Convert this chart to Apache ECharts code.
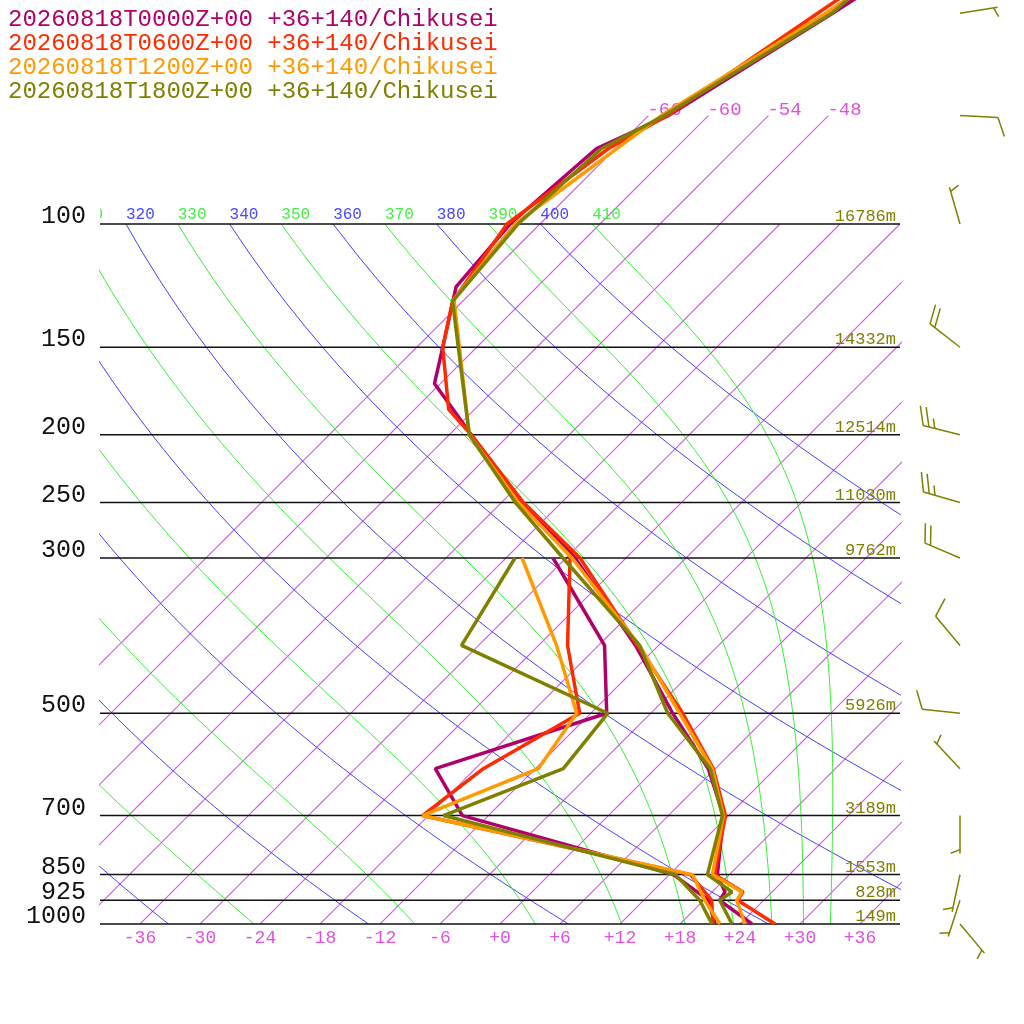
<!DOCTYPE html>
<html>
<head>
<meta charset="utf-8">
<title>Skew-T Chikusei</title>
<script src="https://cdn.jsdelivr.net/npm/echarts@6/dist/echarts.min.js"></script>
<style>
html, body { margin: 0; padding: 0; background: #fff; }
#chart { width: 1024px; height: 1024px; }
</style>
</head>
<body>
<div id="chart"></div>
<script>
// runs shown in the legend
var runNames = [
	'20260818T0000Z+00 +36+140/Chikusei',
	'20260818T0600Z+00 +36+140/Chikusei',
	'20260818T1200Z+00 +36+140/Chikusei',
	'20260818T1800Z+00 +36+140/Chikusei'
];
var runColors = ['#b0006b', '#ff2a00', '#ff9a00', '#808000'];

// temperature profiles (hPa / degC)
var t00P = [1000, 925, 900, 850, 700, 600, 500, 400, 300, 250, 200, 169, 150, 123, 100, 78, 70, 50, 30];
var t00T = [25.2, 19.6, 19.3, 16.8, 11.5, 5.3, -3.8, -14.3, -29.1, -39.9, -51.8, -60.6, -63.4, -68.1, -69.0, -67.9, -64.0, -57.8, -49.4];
var t06P = [1000, 925, 900, 850, 700, 600, 500, 400, 300, 250, 200, 184, 150, 129, 100, 78, 70, 50, 30];
var t06T = [27.5, 21.4, 21.1, 16.5, 11.7, 5.8, -2.8, -14.1, -28.6, -39.8, -51.8, -56.6, -63.4, -67.0, -69.3, -66.7, -64.1, -59.3, -52.2];
var t12P = [1000, 925, 900, 850, 700, 600, 500, 400, 300, 250, 200, 128, 100, 70, 50, 30];
var t12T = [24.5, 21.3, 21.0, 16.3, 11.5, 5.7, -3.1, -13.9, -29.4, -40.3, -52.0, -67.1, -68.5, -64.7, -58.5, -51.4];
var t18P = [1000, 925, 900, 850, 700, 600, 500, 400, 300, 250, 200, 129, 100, 78, 70, 50, 30];
var t18T = [23.2, 19.6, 20.0, 15.8, 11.4, 5.5, -4.3, -13.9, -30.3, -40.6, -52.0, -67.0, -68.2, -67.4, -64.4, -57.9, -55.3];

// dew point profiles (hPa / degC)
var dewP = [1000, 925, 850, 700, 600, 500, 400, 300];
var d00T = [21.5, 18.5, 12.4, -14.6, -22.0, -10.4, -17.4, -31.3];
var d06T = [21.3, 18.8, 14.1, -18.6, -17.2, -13.1, -21.1, -29.6];
var d12T = [22.0, 18.1, 14.3, -18.6, -11.7, -13.4, -22.2, -34.4];
var d18T = [21.2, 17.6, 12.6, -16.5, -9.2, -10.3, -31.7, -35.1];

// wind barbs (1800Z run): direction deg, speed kt
var windP = [1000, 925, 850, 700, 600, 500, 400, 300, 250, 200, 150, 100, 70, 50];
var windDir = [140, 198, 192, 180, 317, 276, 320, 293, 286, 284, 308, 344, 93, 81];
var windSpd = [5, 5, 5, 5, 5, 10, 10, 20, 25, 25, 20, 5, 10, 5];

// isobars and their heights
var isobarP = [100, 150, 200, 250, 300, 500, 700, 850, 925, 1000];
var isobarHgt = ['16786m', '14332m', '12514m', '11030m', '9762m', '5926m', '3189m', '1553m', '828m', '149m'];

// diagram background lines
var isothermT = [-66, -60, -54, -48, -42, -36, -30, -24, -18, -12, -6, 0, 6, 12, 18, 24, 30, 36];
var dryTheta = [240, 260, 280, 300, 320, 340, 360, 380, 400];
var moistTheta = [250, 270, 290, 310, 330, 350, 370, 390, 410];
var tempTicks = [-36, -30, -24, -18, -12, -6, 0, 6, 12, 18, 24, 30, 36];

var KAPPA = 0.2857;
var P_TOP = 1000 * Math.exp(-924 / 304);
var MONO = 'Liberation Mono';

// 45 degree skew: 304px per ln(p), 10px per degree
function skew(p) {
	return 30.4 * Math.log(1000 / p);
}
function pt(t, p) {
	return [t + skew(p), p];
}
function profile(ps, ts) {
	var out = [];
	for (var i = 0; i < ps.length; i++) {
		out.push(pt(ts[i], ps[i]));
	}
	return out;
}

// pseudo-adiabatic lapse rate dT/dp
function dTdp(p, T) {
	var tc = T - 273.15;
	var es = 6.112 * Math.exp(17.67 * tc / (tc + 243.5));
	var rs = 0.622 * es / (p - es);
	var Rd = 287.04, cp = 1005.7, Lv = 2.501e6;
	return (Rd * T + Lv * rs) / (p * (cp + Lv * Lv * rs * 0.622 / (Rd * T * T)));
}
function moistLine(theta) {
	var p = 100, T = theta * Math.pow(0.1, KAPPA), dp = 5, out = [pt(T - 273.15, p)];
	while (p < 1000) {
		var k1 = dTdp(p, T),
			k2 = dTdp(p + dp / 2, T + dp / 2 * k1),
			k3 = dTdp(p + dp / 2, T + dp / 2 * k2),
			k4 = dTdp(p + dp, T + dp * k3);
		T += dp / 6 * (k1 + 2 * k2 + 2 * k3 + k4);
		p += dp;
		out.push(pt(T - 273.15, p));
	}
	return out;
}
function dryLine(theta) {
	var out = [];
	for (var p = 1000; p >= 100; p -= 10) {
		out.push(pt(theta * Math.pow(p / 1000, KAPPA) - 273.15, p));
	}
	return out;
}
// isotherm sampled along its length like the adiabats
function isoLine(t, top) {
	var out = [];
	for (var p = 1000; p > top; p -= 10) {
		out.push(pt(t, p));
	}
	out.push(pt(t, top));
	return out;
}

function thinLine(data, color, w) {
	return {
		type: 'line', data: data, symbol: 'none', silent: true, clip: true,
		lineStyle: { color: color, width: w || 1, opacity: 1 }, itemStyle: { color: color }, z: 1
	};
}

var series = [];

isothermT.forEach(function(t) {
	series.push(thinLine(isoLine(t, t <= -48 ? 70 : 100), '#dc58ee', 1.15));
});
dryTheta.forEach(function(th) {
	series.push(thinLine(dryLine(th), '#4040ff'));
});
moistTheta.forEach(function(th) {
	series.push(thinLine(moistLine(th), '#33ee33'));
});

// isobars with pressure and height labels
series.push({
	type: 'custom', silent: true, clip: false, z: 2,
	data: isobarP.map(function(p) { return [0, p]; }),
	renderItem: function(params, api) {
		var p = api.value(1),
			a = api.coord([-40, p]),
			b = api.coord([40, p]);
		return {
			type: 'group',
			children: [
				{ type: 'line', shape: { x1: a[0], y1: a[1], x2: b[0], y2: b[1] }, style: { stroke: '#111', lineWidth: 1.5 } },
				{ type: 'text', style: { x: a[0] - 14, y: a[1] + 5, text: String(p), align: 'right', verticalAlign: 'bottom',
					fill: '#111', font: '25px ' + MONO } },
				{ type: 'text', style: { x: b[0] - 4, y: a[1] + 1, text: isobarHgt[params.dataIndex], align: 'right', verticalAlign: 'bottom',
					fill: '#808000', font: '17px ' + MONO } }
			]
		};
	}
});

// isotherm labels at the top ends
var isoLabelT = isothermT.filter(function(t) { return t <= -48; });
series.push({
	type: 'custom', silent: true, clip: true, z: 2,
	data: isoLabelT.map(function(t) { return pt(t, 70); }),
	renderItem: function(params, api) {
		var c = api.coord([api.value(0), api.value(1)]);
		return { type: 'text', style: { x: c[0] - 1, y: c[1] + 4, text: String(isoLabelT[params.dataIndex]),
			align: 'left', verticalAlign: 'bottom', fill: '#e050e0', font: '19px ' + MONO } };
	}
});

// adiabat labels along 100 hPa
var thetaLabels = dryTheta.map(function(th) { return { th: th, color: '#4848ff' }; })
	.concat(moistTheta.map(function(th) { return { th: th, color: '#44ee44' }; }));
series.push({
	type: 'custom', silent: true, clip: true, z: 2,
	data: thetaLabels.map(function(d) { return pt(d.th * Math.pow(0.1, KAPPA) - 273.15, 100); }),
	renderItem: function(params, api) {
		var c = api.coord([api.value(0), api.value(1)]),
			d = thetaLabels[params.dataIndex];
		return { type: 'text', style: { x: c[0], y: c[1] - 1, text: String(d.th),
			align: 'left', verticalAlign: 'bottom', fill: d.color, font: '16px ' + MONO } };
	}
});

// soundings
var tempSets = [[t00P, t00T], [t06P, t06T], [t12P, t12T], [t18P, t18T]];
var dewSets = [d00T, d06T, d12T, d18T];
for (var i = 0; i < 4; i++) {
	series.push({
		name: runNames[i], type: 'line', symbol: 'none', clip: true, z: 5,
		data: profile(tempSets[i][0], tempSets[i][1]),
		lineStyle: { color: runColors[i], width: 3.5 }, itemStyle: { color: runColors[i] }
	});
	series.push({
		name: runNames[i], type: 'line', symbol: 'none', clip: true, z: 5,
		data: profile(dewP, dewSets[i]),
		lineStyle: { color: runColors[i], width: 3.5 }, itemStyle: { color: runColors[i] }
	});
}

// wind barbs, column to the right of the plot
function barb(cx, cy, dir, spd, color) {
	var L = 38, r = dir * Math.PI / 180,
		ux = Math.sin(r), uy = -Math.cos(r),
		tx = cx + L * ux, ty = cy + L * uy,
		a = 68 * Math.PI / 180,
		fx = ux * Math.cos(a) - uy * Math.sin(a),
		fy = ux * Math.sin(a) + uy * Math.cos(a),
		st = { stroke: color, lineWidth: 1.5 },
		kids = [{ type: 'line', shape: { x1: cx, y1: cy, x2: tx, y2: ty }, style: st }],
		full = Math.floor(spd / 10),
		half = Math.round((spd - full * 10) / 5),
		pos = 0;
	for (var k = 0; k < full; k++) {
		var bx = tx - pos * ux, by = ty - pos * uy;
		kids.push({ type: 'line', shape: { x1: bx, y1: by, x2: bx + 20 * fx, y2: by + 20 * fy }, style: st });
		pos += 6;
	}
	if (half) {
		if (pos === 0) pos = 4;
		var hx = tx - pos * ux, hy = ty - pos * uy;
		kids.push({ type: 'line', shape: { x1: hx, y1: hy, x2: hx + 10 * fx, y2: hy + 10 * fy }, style: st });
	}
	return kids;
}
series.push({
	type: 'custom', silent: true, clip: false, z: 6,
	data: windP.map(function(p, j) { return [46, p, windDir[j], windSpd[j]]; }),
	renderItem: function(params, api) {
		var c = api.coord([api.value(0), api.value(1)]);
		return { type: 'group', children: barb(c[0], c[1], api.value(2), api.value(3), '#808000') };
	}
});

var chart = echarts.init(document.getElementById('chart'), null, { renderer: 'canvas' });
chart.setOption({
	backgroundColor: '#fff',
	animation: false,
	legend: {
		orient: 'vertical', left: -3, top: 3, itemGap: 0,
		itemWidth: 0, itemHeight: 0, selectedMode: false,
		textStyle: { fontFamily: MONO, fontSize: 24, lineHeight: 24 },
		data: runNames.map(function(n, i) {
			return { name: n, textStyle: { color: runColors[i] } };
		})
	},
	grid: { left: 100, right: 124, top: 0, bottom: 100, containLabel: false },
	xAxis: {
		type: 'value', min: -40, max: 40,
		axisLine: { show: false }, axisTick: { show: false }, splitLine: { show: false },
		axisLabel: {
			customValues: tempTicks, margin: 5,
			color: '#e050e0', fontFamily: MONO, fontSize: 18,
			formatter: function(v) { return v >= 0 ? '+' + v : String(v); }
		}
	},
	yAxis: {
		type: 'log', logBase: 10, min: P_TOP, max: 1000, inverse: true,
		axisLine: { show: false }, axisTick: { show: false },
		axisLabel: { show: false }, splitLine: { show: false }
	},
	series: series
});
</script>
</body>
</html>
